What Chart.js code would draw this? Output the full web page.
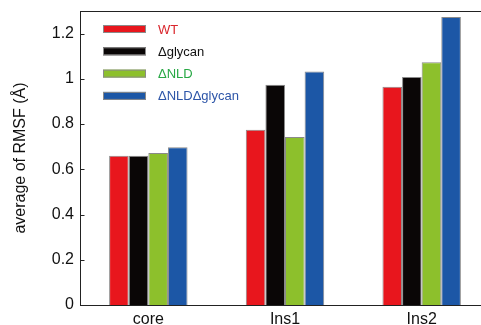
<!DOCTYPE html>
<html>
<head>
<meta charset="utf-8">
<script src="https://cdn.jsdelivr.net/npm/chart.js@4"></script>
<style>
  html, body { margin: 0; padding: 0; background: #fff; overflow: hidden; }
  #wrap { width: 490px; height: 325px; }
</style>
</head>
<body>
<div id="wrap"><canvas id="rmsfChart" width="490" height="325"></canvas></div>
<script>
// --------------------------------
// Data
// --------------------------------
const categories = ["core", "Ins1", "Ins2"];
const seriesNames = ["WT", "\u0394glycan", "\u0394NLD", "\u0394NLD\u0394glycan"];
const wtValues = [0.66, 0.775, 0.965];
const glycanValues = [0.66, 0.974, 1.008];
const nldValues = [0.672, 0.743, 1.073];
const nldGlycanValues = [0.698, 1.032, 1.274];
const yTicks = [0, 0.2, 0.4, 0.6, 0.8, 1, 1.2];

// --------------------------------
// Styles
// --------------------------------
const barColors = ["#e8161d", "#0a0606", "#8dc02c", "#1c57a6"];
const legendTextColors = ["#d9262c", "#111111", "#27a844", "#2d55a8"];
const FONT = "'Liberation Sans', Arial, sans-serif";

const seriesValues = [wtValues, glycanValues, nldValues, nldGlycanValues];

// legend, top frame line and inward ticks, all drawn after the chart
const overlay = {
  id: "overlay",
  afterDraw(chart) {
    const { ctx, chartArea } = chart;
    const yScale = chart.scales.y;
    const left = Math.round(chartArea.left) + 0.5;
    const top = Math.round(chartArea.top) + 0.5;
    ctx.save();

    // frame + ticks
    ctx.strokeStyle = "#222222";
    ctx.lineWidth = 1;
    ctx.beginPath();
    ctx.moveTo(left, top);
    ctx.lineTo(chart.width, top);
    yTicks.forEach((v) => {
      const py = Math.round(yScale.getPixelForValue(v)) + 0.5;
      ctx.moveTo(left, py);
      ctx.lineTo(left + 4, py);
    });
    ctx.stroke();

    // legend rows
    chart.data.datasets.forEach((ds, i) => {
      const y = chartArea.top + 18 + i * 22.3;
      ctx.fillStyle = ds.backgroundColor;
      ctx.fillRect(chartArea.left + 23, y - 4, 43, 8);
      ctx.strokeStyle = "#8a8a8a";
      ctx.strokeRect(chartArea.left + 23.5, y - 3.5, 42, 7);
      ctx.fillStyle = legendTextColors[i];
      ctx.font = "13px " + FONT;
      ctx.textBaseline = "middle";
      ctx.textAlign = "left";
      ctx.fillText(ds.label, chartArea.left + 78, y + 1);
    });
    ctx.restore();
  },
};

new Chart(document.getElementById("rmsfChart").getContext("2d"), {
  type: "bar",
  data: {
    labels: categories,
    datasets: seriesNames.map((name, i) => ({
      label: name,
      data: seriesValues[i],
      backgroundColor: barColors[i],
      borderColor: "#8a8a8a",
      borderWidth: 1,
      barPercentage: 1,
      categoryPercentage: 0.574,
    })),
  },
  options: {
    responsive: false,
    animation: false,
    layout: { padding: { top: 11, right: 0, left: 0, bottom: 0 } },
    plugins: {
      legend: { display: false },
      tooltip: { enabled: false },
    },
    scales: {
      x: {
        grid: { display: false, drawTicks: false },
        border: { display: true, color: "#222", width: 1 },
        ticks: { color: "#111", font: { family: FONT, size: 16 }, padding: 5 },
        afterFit: (s) => { s.height = 20; },
      },
      y: {
        min: 0,
        max: 1.3,
        grid: { display: false, drawTicks: false },
        border: { display: true, color: "#222", width: 1 },
        ticks: {
          stepSize: 0.2,
          includeBounds: false,
          color: "#111",
          padding: 6,
          font: { family: FONT, size: 16 },
          callback: (v) => String(Math.round(v * 10) / 10),
        },
        title: {
          display: true,
          text: "average of RMSF (\u00c5)",
          color: "#111",
          font: { family: FONT, size: 16 },
          padding: { top: 11, bottom: 0 },
        },
        afterFit: (s) => { s.width = 80; s.paddingTop = 0; s.paddingBottom = 0; },
      },
    },
  },
  plugins: [overlay],
});
</script>
</body>
</html>
